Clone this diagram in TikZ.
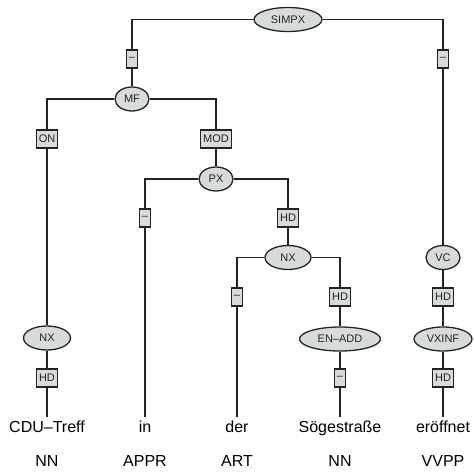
\documentclass[tikz,border=0pt]{standalone}
\usepackage{fontspec}
\setmainfont{Liberation Sans}
\usepackage{tikz}
\usetikzlibrary{shapes.geometric}
\usepackage{xcolor}
\definecolor{catfill}{RGB}{216,220,216}
\definecolor{treeline}{RGB}{35,35,35}

\tikzset{
  cat/.style={ellipse,draw=treeline,fill=catfill,line width=1.3pt,inner sep=0pt,
    minimum height=24pt,font=\fontsize{11}{12}\selectfont,text=treeline},
  func/.style={rectangle,draw=treeline,fill=catfill,line width=1.3pt,inner xsep=2.5pt,
    inner ysep=0pt,minimum height=18pt,font=\fontsize{11}{12}\selectfont,text=treeline},
  word/.style={anchor=north,inner xsep=0pt,inner ysep=4pt,font=\fontsize{16}{18}\selectfont},
  postag/.style={font=\fontsize{16}{18}\selectfont},
  branch/.style={draw=treeline,line width=1.3pt}
}

\begin{document}
\begin{tikzpicture}[x=1pt,y=1pt]
\useasboundingbox (0,0) rectangle (474,-472);
% top level
\node[cat,minimum width=68pt] (simpx) at (288,-19.5) {SIMPX};
\node[func] (e1) at (132,-59) {–};
\node[func] (e2) at (443,-59) {–};
\node[cat,minimum width=34pt] (mf) at (132,-99) {MF};
\node[func] (on) at (47,-139) {ON};
\node[func] (mod) at (216,-139) {MOD};
% left noun phrase
\node[cat,minimum width=47pt] (nx1) at (47,-338) {NX};
\node[func] (hd1) at (47,-378) {HD};
% prepositional phrase
\node[cat,minimum width=34pt] (px) at (216,-179) {PX};
\node[func] (e3) at (145,-218) {–};
\node[func] (hd2) at (288,-218) {HD};
\node[cat,minimum width=46pt] (nx2) at (288,-257.5) {NX};
\node[func] (e4) at (237,-297) {–};
\node[func] (hd3) at (340,-297) {HD};
\node[cat,minimum width=81pt] (enadd) at (340,-339) {EN–ADD};
\node[func] (e5) at (340,-378) {–};
% verb complex
\node[cat,minimum width=34pt] (vc) at (443,-257.5) {VC};
\node[func] (hd4) at (443,-297) {HD};
\node[cat,minimum width=58pt] (vxinf) at (443,-339) {VXINF};
\node[func] (hd5) at (443,-378) {HD};
% words and tags
\node[word] (w1) at (47,-417) {CDU–Treff};
\node[word] (w2) at (145,-417) {in};
\node[word] (w3) at (237,-417) {der};
\node[word] (w4) at (340,-417) {Sögestraße};
\node[word] (w5) at (443,-417) {eröffnet};
\node[postag] (t1) at (47,-461) {NN};
\node[postag] (t2) at (145,-461) {APPR};
\node[postag] (t3) at (237,-461) {ART};
\node[postag] (t4) at (340,-461) {NN};
\node[postag] (t5) at (443,-461) {VVPP};
% edges
\path[branch] (simpx) -| (e1);
\path[branch] (simpx) -| (e2);
\path[branch] (e1) -- (mf);
\path[branch] (mf) -| (on);
\path[branch] (mf) -| (mod);
\path[branch] (on) -- (nx1);
\path[branch] (nx1) -- (hd1);
\path[branch] (hd1) -- (w1);
\path[branch] (mod) -- (px);
\path[branch] (px) -| (e3);
\path[branch] (px) -| (hd2);
\path[branch] (e3) -- (w2);
\path[branch] (hd2) -- (nx2);
\path[branch] (nx2) -| (e4);
\path[branch] (nx2) -| (hd3);
\path[branch] (e4) -- (w3);
\path[branch] (hd3) -- (enadd);
\path[branch] (enadd) -- (e5);
\path[branch] (e5) -- (w4);
\path[branch] (e2) -- (vc);
\path[branch] (vc) -- (hd4);
\path[branch] (hd4) -- (vxinf);
\path[branch] (vxinf) -- (hd5);
\path[branch] (hd5) -- (w5);
\end{tikzpicture}
\end{document}
